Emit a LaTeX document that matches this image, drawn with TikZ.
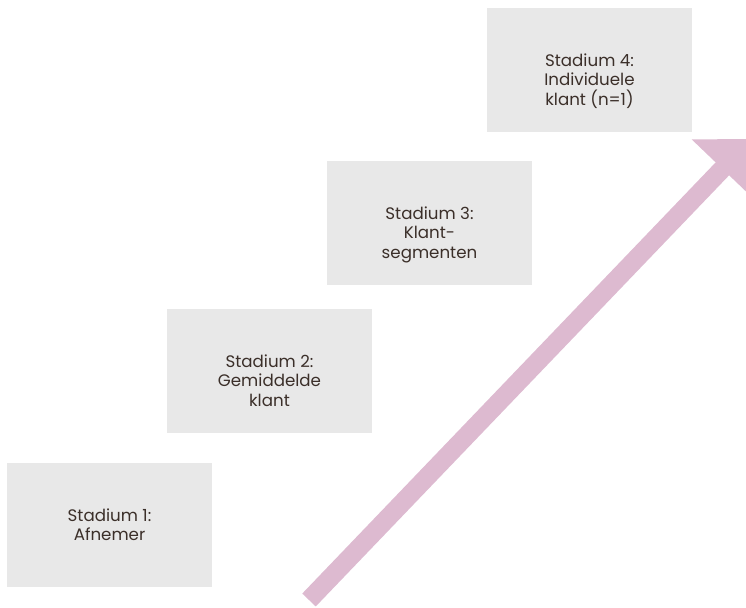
\documentclass[tikz,border=0pt]{standalone}
\usepackage{fontspec}
\setmainfont{Poppins}
\usetikzlibrary{arrows.meta, calc}

\definecolor{boxgray}{HTML}{E8E8E8}
\definecolor{arrowpink}{HTML}{DDBAD0}
\definecolor{textbrown}{HTML}{3B2F29}

\tikzset{
  stage/.style = {fill=boxgray, minimum width=153.75pt, minimum height=93pt, inner sep=0pt},
  stagetext/.style = {anchor=north, align=center, inner sep=0pt, text=textbrown,
                      font=\fontsize{12.5}{14.6}\selectfont}
}

\begin{document}
\begin{tikzpicture}[x=0.75pt, y=-0.75pt]
\useasboundingbox (0,0) rectangle (746,607);
\clip (0,0) rectangle (746,607);

%Arrow
\coordinate (tail) at (309,600);
\coordinate (tip) at (751,139);
\draw[arrowpink, line width=14pt, -{Triangle[length=31pt, width=62pt]}] (tail) -- (tip);

%Boxes
\node[stage] (s1) at (109.5,525) {};
\node[stage] (s2) at (269.5,371) {};
\node[stage] (s3) at (429.5,223) {};
\node[stage] (s4) at (589.5,70) {};

%Labels
\node[stagetext] (t1) at ($(s1.north)+(0,45.5)$) {Stadium 1:\\Afnemer};
\node[stagetext] (t2) at ($(s2.north)+(0,45.5)$) {Stadium 2:\\Gemiddelde\\klant};
\node[stagetext] (t3) at ($(s3.north)+(0,45.5)$) {Stadium 3:\\Klant-\\segmenten};
\node[stagetext] (t4) at ($(s4.north)+(0,45.5)$) {Stadium 4:\\Individuele\\klant (n=1)};
\end{tikzpicture}
\end{document}
